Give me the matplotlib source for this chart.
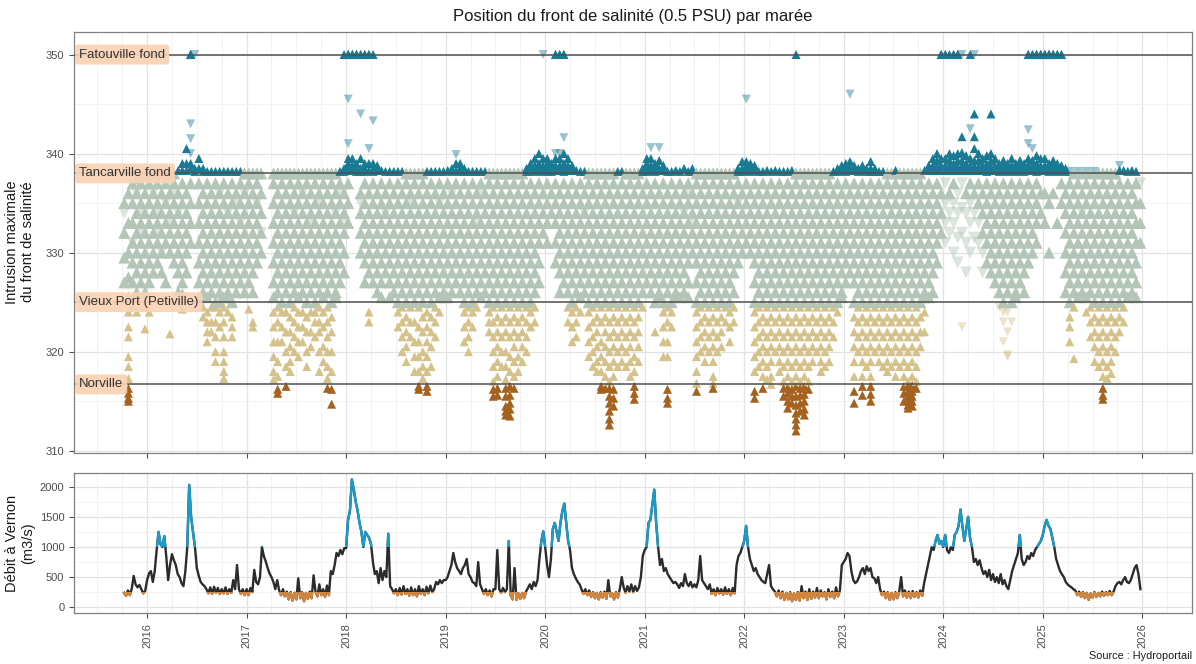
import numpy as np
import matplotlib
matplotlib.use("Agg")
import matplotlib.pyplot as plt
import matplotlib.transforms as mtransforms
from matplotlib.patches import Rectangle

plt.rcParams['font.family'] = ['Liberation Sans', 'DejaVu Sans']

# Maximum intrusion of the 0.5 PSU front (km), read per half-month bin
# (Jan a, Jan b, Feb a, ...). A trailing "v" marks the downward triangles.
cloud_2015 = [  # Oct a .. Dec b
    "335 332 329.5 327 334v",
    "336 333 330 327.5 325.5 324 322.5 321.5 319.5 318.5 317.3 316.3 315.8 315.3 315",
    "337 335 333 331 329 327 331v 324.5",
    "337.5 336 334 332 330 328 326 324 336v",
    "338 337 335 333 331 329 327 334v 332v",
    "338 336 334 332 330 328 326 324.5 322.3",
]
cloud_2016 = [
    "338 337 335 333 331 329 327 324",
    "338 336 334 332 330 328 336v",
    "338 337 335 333 331 329 334v 332v",
    "338 336 334 332 330 328 330v",
    "338 337 335 333 331 327 335v",
    "338 336 334 332 330 321.8 333v",
    "338 337 335 333 331 329 336v",
    "338.3 336 334 332 330 328 326 334v",
    "339 338.3 337 335 333 331 329 327 325.8 324.3",
    "340.5 339 338.3 336 334 332 330 328",
    "350 350 350 343v 341.5v 340v 339 338.5 337 335 333 331",
    "350v 338.5 338.2",
    "339.5 338.5 337 335 333 331 329 327 325.5",
    "338.5 338.2 336 334 332 330 328 326 324.5 323.5",
    "338.2 337 335 333 331 329 327 325.5 324 323 322 321",
    "338.2 336 334 332 330 328 326 324.5 323 322",
    "338.2 337 335 333 331 329 327 325 324.5 323 321.5 320 319",
    "338.2 336 334 332 330 328 326 325 324 322.5 336v",
    "338.2 337 335 333 331 329 327 325.5 324.5 323 321.5 320 319 318 317.3",
    "338.2 336 334 332 330 328 326 325.5 324 334v",
    "338.2 337 335 333 331 329 327 325 323.5 322.5 321.5",
    "338.2 336 334 332 330 328 326 335v",
    "338.2 337 335 333 331 329 327 333v",
    "338 336 334 332 330 328 326 336v",
]
cloud_2017 = [
    "338 337 335 333 331 329 327 324.3",
    "338 336 334 332 330 328 326 323 322.5",
    "338 337 335 333 331 329 335v",
    "338 336 334 332 330 332v",
    "",
    "",
    "338 337 335 333 331 329 327 325.5 324 322.5 321 319.5 318 317.2",
    "338 336 334 332 330 328 326 324.5 323 321 319 317.5 316.2 315.8",
    "338 337 335 333 331 329 327 325 324 322.5 321",
    "338 336 334 332 330 328 326 324 322 320 318.5 316.5",
    "338 337 335 333 331 329 327 325 323.5 322 320.5 319 318",
    "338 336 334 332 330 328 326 324.5 323 321.5 320 334v",
    "338 337 335 333 331 329 327 325.5 324 322.5 321 319.5",
    "338 336 334 332 330 328 326 324 322.5 321 336v",
    "338 337 335 333 331 329 327 325 323.5 322 320 318.5",
    "338 336 334 332 330 328 326 324 322 320.5 333v",
    "338 337 335 333 331 329 327 325 324 323 321.5",
    "338 336 334 332 330 328 326 324.5 323 322 320 318 335v",
    "338 337 335 333 331 329 327 325.5 324 322.5 320.5 319",
    "338 336 334 332 330 328 326 324.5 323 321.5 320 318.5 317.3 316.3",
    "338 337 335 333 331 329 327 325 323.5 322 320 318 316.2 314.7",
    "338 336 334 332 330 328 326 325.5 334v",
    "338.2 337 335 333 331 329 327 336v",
    "338.5 338.2 336 334 332 330 328 333v 350",
]
cloud_2018 = [
    "350 350 350 345.5v 341v 339.5 339 338.5 338.3 337 335 333",
    "350 350 350 339.5 338.8 338.3",
    "350 350 350 339 338.5 338.2",
    "350 350 344v 339.5 338.5 338.2 336 334 332 330 335v",
    "350 350 339 338.5 338.2 337 335 333 331 329 327",
    "350 350 340.5v 339 338.3 336 334 332 330 328 324 323",
    "350 343.3v 339 338.5 338.2 337 335 333 331 329 327",
    "338.8 338.3 336 334 332 330 328 326",
    "338.3 337 335 333 331 329 327 325.5",
    "338.2 336 334 332 330 328 334v",
    "338.2 337 335 333 331 329 327 325.5",
    "338.2 336 334 332 330 328 326",
    "338.2 337 335 333 331 329 327 325 324 322.5",
    "338.2 336 334 332 330 328 326 324.5 323 321.5 320",
    "338 337 335 333 331 329 327 325 323.5 322 320.5 319",
    "338 336 334 332 330 328 326 324.5 323 321.5 335v",
    "338 337 335 333 331 329 327 325 323 321 319.5 318",
    "338 336 334 332 330 328 326 324.5 322.5 321 319.5 318 316.5 316.2",
    "338 337 335 333 331 329 327 325 323.5 322 320 318.5 317.3",
    "338.2 336 334 332 330 328 326 324 322.5 321 319.5 318 316.5 316",
    "338.2 337 335 333 331 329 327 325 323.5 322 320.5 318.5",
    "338.2 336 334 332 330 328 326 324.5 323 321.5",
    "338.2 337 335 333 331 329 327 325.5 324 335v",
    "338.2 336 334 332 330 328 326 325.5",
]
cloud_2019 = [
    "338.3 337 335 333 331 329 327 325.5",
    "338.5 338.2 336 334 332 330 328 326 336v",
    "339.9v 339 338.3 337 335 333 331 329 327",
    "339 338.5 338.2 336 334 332 330 328 326",
    "338.5 338.2 337 335 333 331 329 327 325 324 322.5 321",
    "338.2 336 334 332 330 328 326 324.5 323 321.5 320",
    "338.2 337 335 333 331 329 327 325 324 322.5",
    "338.2 336 334 332 330 328 326 324.5 333v",
    "338.2 337 335 333 331 329 327 325.5 336v",
    "338.2 336 334 332 330 328 326",
    "338 337 335 333 331 329 327 325 324 323 322",
    "338 336 334 332 330 328 326 324.5 323 321.5 320 318.5 317 316.2 315.5",
    "338 337 335 333 331 329 327 325 323.5 322 320.5 319 317.5 316.3 315.6",
    "338 336 334 332 330 328 326 324.5 323 321.5 320 318.5",
    "338 337 335 333 331 329 327 325 323.5 322 320 318.5 317.2 316.3 315.5 314.5 314 313.6",
    "338 336 334 332 330 328 326 324.5 323 321.5 319.5 318 316.5 315.6 314.8 314.2 313.5",
    "338 337 335 333 331 329 327 325 323.5 322 320.5 319 317.5 316.3",
    "338 336 334 332 330 328 326 324.5 323 321.5 319.5 318",
    "338 337 335 333 331 329 327 325 323.5 322 320.5 319",
    "338.5 338.2 336 334 332 330 328 326 324.5 323 321.5 320",
    "339 338.5 338.2 337 335 333 331 329 327 325 324 322.5",
    "339.5 338.8 338.3 336 334 332 330 328 326 324.5 323",
    "340 339 338.5 338.2 337 335 333 331 329 327",
    "350v 339.5 338.8 338.3 336 334 332",
]
cloud_2020 = [
    "339.5 339 338.5 338.2 337 335 333 331",
    "339 338.5 338.2 336 334",
    "350 350 340v 339.5 338.8 338.3 337 335 333 331 329",
    "350 350 340v 339.5 338.8 338.3 336 334 332 330 328 326",
    "350 350 341.6v 340 339 338.5 338.2 337 335 333 331 329 327",
    "339.5 338.8 338.3 336 334 332 330 328 326 324.5 323",
    "338.8 338.3 337 335 333 331 329 327 325 324 322.5 321",
    "338.3 336 334 332 330 328 326 324.5 323 321.5",
    "338.2 337 335 333 331 329 327 325.5 324",
    "338.2 336 334 332 330 328 326 334v",
    "338 337 335 333 331 329 327 325 324 322.5 321 319.5",
    "338 336 334 332 330 328 326 324.5 323 321.5 320 318.5",
    "338 337 335 333 331 329 327 325 323.5 322 320.5 319 318",
    "338 336 334 332 330 328 326 324.5 323 321 319.5 318 316.5 316.2",
    "338 337 335 333 331 329 327 325 323.5 322 320.5 319 317.5 316.3",
    "338 336 334 332 330 328 326 324.5 323 321.5 320 318.5 317 316.3 315.5 314.8 314 313.2 312.6",
    "338 337 335 333 331 329 327 325 323.5 322 320.5 319 317.5 316.2 315.3 314.5",
    "338.2 336 334 332 330 328 326 324.5 323 321.5 320 318.5",
    "338.2 337 335 333 331 329 327 325 323.5 322 320.5 319",
    "338 336 334 332 330 328 326 324.5 323 321.5 320 318.5",
    "338 337 335 333 331 329 327 325 323.5 322 320.5 319 317.5",
    "338 336 334 332 330 328 326 324.5 323 321.5 319.5 318 316.5 315.8 315.2",
    "338 337 335 333 331 329 327 325 323.5 322 320.5 319",
    "338.5 338.2 336 334 332 330 328 326 324.5",
]
cloud_2021 = [
    "339.5 339 338.5 338.2 337 335 333 331 329 327",
    "340.6v 339.5 338.8 338.3 336 334 332 330 328 326",
    "339 338.5 338.2 337 335 333 331 329 327 325 322",
    "340.6v 339.3 338.5 338.3 336 334 332 330 328 326 325.5",
    "338.8 338.3 337 335 333 331 329 327 325 324 322.5 321 319.5",
    "338.2 336 334 332 330 328 326 324.5 323 321 319.5 316.2 315.3 314.8",
    "338.2 337 335 333 331 329 327 325 324 322.5",
    "338.3 336 334 332 330 328 326 325.5",
    "338.2 337 335 333 331 329 327 325.5",
    "338.5 336 334 332 330 328 326 334v",
    "338.2 337 335 333 331 329 327 325.5 336v",
    "338.5 338.2 336 334 332 330 333v",
    "338 337 335 333 331 329 327 325 324 322.5 321 319.5 318 316.8 316",
    "338 336 334 332 330 328 326 324.5 323 321.5 320",
    "338 337 335 333 331 329 327 325 323.5 322 320.5 319",
    "338 336 334 332 330 328 326 324.5 323 321.5 320",
    "338 337 335 333 331 329 327 325 323.5 322 320.5 319 317.5 316.8 316.3",
    "338 336 334 332 330 328 326 324.5 323 321.5 320",
    "338 337 335 333 331 329 327 325 323.5 322 320.5",
    "338 336 334 332 330 328 326 324.5 323",
    "338 337 335 333 331 329 327 325 324 322.5 321",
    "338 336 334 332 330 328 326 324.5 323",
    "338.5 338.2 337 335 333 331 329 335v",
    "339.2 338.5 338.2 336 334 332 330",
]
cloud_2022 = [
    "345.5v 339.2 338.8 338.3 337 335 333 331",
    "339 338.5 338.2 336 334 332 330",
    "338.8 338.3 337 335 333 331 329 327 325 324 322.5 321 319.5 318 316 315.3",
    "338.2 336 334 332 330 328 326 324.5 323 321.5 320 318.5",
    "338.2 337 335 333 331 329 327 325 323.5 322 320.5 319 317.5 316.3",
    "338.3 336 334 332 330 328 326 324.5 323 321.5 320 318.5 317.2",
    "338.2 337 335 333 331 329 327 325 323.5 322 320.5 319 317.5 316.7",
    "338.3 336 334 332 330 328 326 324.5 323 321.5 320",
    "338.2 337 335 333 331 329 327 325 323.5 322 320.5 319 318",
    "338.2 336 334 332 330 328 326 324.5 323 321.5 320 318.5 317 316.3 315.5",
    "338.2 337 335 333 331 329 327 325 323.5 322 320.5 319 317.5 316.4 315.8 315 314.3",
    "338.3 336 334 332 330 328 326 324.5 323 321.5 320 318.5 317 316.2 315.5 314.8",
    "350 338 337 335 333 331 329 327 325 323.5 322 320.5 319 317.5 316.5 315.5 314.6 313.8 313.2 312.6 312",
    "338 336 334 332 330 328 326 324.5 323 321.5 320 318.5 317 316.3 315.6 314.8 314",
    "338 337 335 333 331 329 327 325 323.5 322 320.5 319 317.5 316.5 315.7 315 314.2 313.6",
    "338 336 334 332 330 328 326 324.5 323 321.5 320 318.5 317 316.2",
    "338 337 335 333 331 329 327 325 323.5 322 320.5 319",
    "338 336 334 332 330 328 326 324.5 323 321.5 320",
    "338 337 335 333 331 329 327 325 323.5 322 320.5 319 318",
    "338 336 334 332 330 328 326 324.5 323 321.5 320 318.5",
    "338 337 335 333 331 329 327 325 323.5 322 320.5 319",
    "338.2 336 334 332 330 328 326 324.5 323 321.5",
    "338.5 338.2 337 335 333 331 329 327 325 324",
    "338.8 338.3 336 334 332 330 328 326 325.5",
]
cloud_2023 = [
    "339 338.5 338.2 337 335 333 331 329 327",
    "346v 339.2 338.5 338.3 336 334 332 330 328",
    "338.8 338.3 337 335 333 331 329 327 325 323.5 322 320.5 319 317.5 316 314.8",
    "338.5 338.2 336 334 332 330 328 326 324.5 323 321.5 320",
    "338.8 338.3 337 335 333 331 329 327 325 323.5 322 320.5 319 317.5 316.5 315.6",
    "338.5 338.2 336 334 332 330 328 326 324.5 323 321.5 320 318.5",
    "339.2 338.5 338.2 337 335 333 331 329 327 325 323.5 322 320.5 319 317.5 316.5 315.7 315",
    "338.5 338.2 336 334 332 330 328 326 324.5 323 321.5 320",
    "338.2 337 335 333 331 329 327 325 323.5 322 320.5 319",
    "338.2 336 334 332 330 328 326 324.5 323 321.5 320 318.5",
    "338 337 335 333 331 329 327 325 323.5 322 320.5 319 318",
    "338 336 334 332 330 328 326 324.5 323 321.5 320 318.5",
    "338.3 337 335 333 331 329 327 325 323.5 322 320.5 319 317.5",
    "338 336 334 332 330 328 326 324.5 323 321.5 320 318.5",
    "338 337 335 333 331 329 327 325 323.5 322 320.5 319 317.5 316.5 315.8 315",
    "338 336 334 332 330 328 326 324.5 323 321.5 320 318.5 317 316.5 316 315.5 315 314.6 314.3",
    "338 337 335 333 331 329 327 325 323.5 322 320.5 319 317.5 316.6 316 315.5 315 314.5",
    "338 336 334 332 330 328 326 324.5 323 321.5 320 318.5 317 316.3",
    "338 337 335 333 331 329 327 325 323.5 322 320.5",
    "338.3 336 334 332 330 328 326 325.5 324 322",
    "338.8 338.3 337 335 333 331 329 327 325.5",
    "339.5 338.8 338.3 336 334 332 330 328 326",
    "340 339.3 338.7 338.3 337 335 333 331 329",
    "350 350 339.5 338.8 338.3 336 334 332",
]
cloud_2024 = [
    "350 350 339.5 338.8 338.3 337v 335v 333v 331v",
    "350 340 339.3 338.7 338.3 336 334v 332v",
    "350 350 339.8 339 338.5 338.3 337 335v 333v 330v",
    "350 350 340 339.3 338.7 338.3 336v 334v 331.5v 329v",
    "350v 341.7 340.1 339.3 338.7 338.3 337v 334.5v 332v 322.5v",
    "339.8 339 338.5 338.3 336 334v 331v 328v",
    "350 342.5v 339.5 338.8 338.3 337 335v 333v 330v",
    "350v 344 341.7 340.5 339.3 338.7 338.3 336 334v 331.5v",
    "340 339.3 338.7 338.3 337 335 333v 331v",
    "339.5 338.8 338.3 336 334 332 330v 328v",
    "339.8 339 338.5 338.2 337 335 333 331 329",
    "344 340 339.3 338.7 338.3 336 334 332 330 328",
    "339.5 338.8 338.3 337 335 333 331 329 327",
    "339 338.5 338.2 336 334 332 330 328 326 324.5v",
    "339.3 338.7 338.3 337 335 333 331 329 327 325 324v 323v 321v",
    "339 338.5 338.2 336 334 332 330 328 326 324v 322v 319.7v 319.5v",
    "339.5 338.8 338.3 337 335 333 331 329 327 325 323v",
    "339 338.5 338.2 336 334 332 330 328 326 325.5",
    "339.3 338.7 338.3 337 335 333 331 329 327",
    "339 338.5 338.2 336 334 332 330 328 326",
    "350 350 342.4v 341v 339.5 338.8 338.3 337 335 333 331 329",
    "350 350 340.5v 339.3 338.7 338.3 336 334 332 330",
    "350 350 350 339.8 339 338.5 338.2 337 335 333 331",
    "350 350 350 339.5 338.8 338.3 336 334",
]
cloud_2025 = [
    "350 350 350 339.5 338.8 338.3 336 333",
    "350 350 350 339 338.5 338.2 335 330",
    "350 350 350 339.3 338.7 338.3 336",
    "350 350 339 338.5 338.2 333",
    "350 350 338.8 338.3 337 335",
    "338.5 338.2 336 334 332 330 328 326",
    "338.2v 337 335 333 331 329 327 325 323.5 322.5 321",
    "338 336 334 332 330 328 326 324.5 319.3",
    "338.2v 337 335 333 331 329 327 325.5",
    "338 336 334 332 330 328 326 334v",
    "338.2v 337 335 333 331 329 327 325.5 324",
    "338 336 334 332 330 328 326 324.5 323 321.5",
    "338.2v 337 335 333 331 329 327 325 323.5 322 320.5 319",
    "338 336 334 332 330 328 326 324.5 323 321.5 320 318.5",
    "338 337 335 333 331 329 327 325 323.5 322 320.5 319 317.5 316.3 315.6 315.2",
    "338 336 334 332 330 328 326 324.5 323 321.5 320 318.5 317.3",
    "338 337 335 333 331 329 327 325 323.5 322 320.5 319 317.8",
    "338 336 334 332 330 328 326 324.5 323 321.5 320",
    "338.8v 338.3 337 335 333 331 329 327 325 323.5 322",
    "338.3 336 334 332 330 328 326 324.5 323",
    "338.2 337 335 333 331 329 327 325.5",
    "338.3 336 334 332 330 328 326",
    "338.2 337 335 333 331 329 327 325.5",
    "337v 335 333 331",
]
cloud_years = [2015, 2016, 2017, 2018, 2019, 2020, 2021, 2022, 2023, 2024, 2025]
cloud_bins = [cloud_2015, cloud_2016, cloud_2017, cloud_2018, cloud_2019, cloud_2020,
              cloud_2021, cloud_2022, cloud_2023, cloud_2024, cloud_2025]
cloud_first_bin = [18, 0, 0, 0, 0, 0, 0, 0, 0, 0, 0]

# Discharge at Vernon (m3/s), weekly readings (2015 starts at week 40)
q_2015 = [240, 190, 280, 200, 310, 520, 380, 330, 370, 300, 230, 270]
q_2016 = [450, 560, 600, 420, 600, 950, 1250, 1050, 1000, 1180, 850, 450,
          700, 880, 780, 700, 550, 500, 400, 350, 600, 1000, 2030, 1500,
          1250, 1000, 650, 520, 420, 380, 350, 300, 230, 330, 220, 340,
          240, 320, 220, 300, 230, 330, 220, 300, 240, 450, 300, 700,
          300, 220, 300, 200]
q_2017 = [300, 200, 320, 250, 620, 420, 380, 500, 1000, 850, 760, 650,
          560, 500, 420, 300, 450, 280, 200, 300, 180, 260, 130, 250,
          110, 240, 130, 480, 150, 250, 100, 240, 140, 260, 150, 530,
          260, 180, 380, 200, 300, 170, 360, 200, 600, 550, 700, 900,
          850, 950, 880, 980]
q_2018 = [980, 1450, 1600, 2120, 1950, 1750, 1600, 1400, 1250, 1000, 1250, 1200,
          1150, 1050, 750, 550, 600, 400, 650, 450, 600, 500, 1220, 350,
          300, 230, 300, 200, 320, 210, 350, 220, 300, 190, 330, 200,
          300, 180, 350, 220, 300, 200, 340, 230, 360, 250, 300, 420,
          380, 450, 400, 450]
q_2019 = [450, 500, 600, 700, 900, 750, 650, 600, 550, 650, 700, 800,
          550, 500, 420, 400, 350, 750, 380, 300, 220, 300, 200, 280,
          180, 300, 300, 950, 300, 240, 320, 250, 300, 1100, 200, 130,
          650, 120, 230, 140, 240, 150, 260, 320, 380, 300, 420, 350,
          450, 800, 1100, 1260]
q_2020 = [1000, 700, 500, 800, 1300, 1400, 1250, 1100, 1400, 1600, 1720, 1400,
          1100, 950, 650, 550, 480, 420, 380, 300, 220, 300, 200, 280,
          170, 250, 150, 240, 130, 250, 160, 260, 140, 450, 180, 230,
          130, 250, 160, 300, 500, 330, 240, 350, 260, 380, 250, 350,
          270, 330, 500, 850]
q_2021 = [950, 1000, 1400, 1450, 1700, 1950, 1400, 1000, 700, 800, 600, 650,
          550, 500, 450, 400, 420, 380, 320, 400, 350, 550, 400, 350,
          420, 330, 380, 330, 450, 850, 450, 400, 350, 300, 380, 220,
          300, 200, 320, 230, 300, 210, 330, 220, 300, 200, 320, 230,
          700, 850, 900, 1000]
q_2022 = [1100, 1350, 1000, 800, 700, 600, 650, 550, 500, 450, 420, 400,
          550, 700, 350, 300, 260, 180, 280, 150, 260, 120, 240, 130,
          250, 100, 230, 120, 250, 110, 350, 150, 260, 120, 300, 140,
          260, 160, 320, 150, 280, 180, 250, 130, 300, 170, 260, 150,
          330, 180, 280, 700]
q_2023 = [750, 800, 900, 850, 600, 450, 400, 430, 500, 600, 650, 550,
          680, 600, 650, 500, 480, 400, 500, 300, 200, 260, 150, 250,
          120, 240, 130, 250, 150, 260, 500, 180, 280, 160, 260, 150,
          270, 170, 250, 160, 280, 190, 400, 550, 700, 850, 1000, 950,
          1100, 1200, 1050, 1100]
q_2024 = [1000, 1200, 950, 900, 1000, 950, 1200, 1250, 1350, 1620, 1350, 1100,
          1300, 1500, 1150, 1000, 750, 800, 700, 780, 650, 550, 600, 500,
          620, 450, 550, 420, 500, 400, 550, 380, 450, 350, 300, 450,
          600, 700, 800, 900, 1200, 800, 700, 750, 850, 800, 900, 850,
          950, 1000, 1050, 1100]
q_2025 = [1200, 1350, 1450, 1350, 1300, 1150, 1000, 800, 700, 600, 550, 500,
          420, 380, 350, 330, 300, 280, 200, 260, 170, 250, 150, 240,
          120, 230, 160, 250, 170, 240, 180, 260, 190, 250, 200, 270,
          200, 260, 350, 400, 420, 380, 450, 500, 420, 400, 450, 550,
          650, 700, 550, 300]
q_years = cloud_years
q_series = [q_2015, q_2016, q_2017, q_2018, q_2019, q_2020, q_2021, q_2022, q_2023, q_2024, q_2025]
q_first_week = [40, 0, 0, 0, 0, 0, 0, 0, 0, 0, 0]

stations = ["Fatouville fond", "Tancarville fond", "Vieux Port (Petiville)", "Norville"]
station_km = [350, 338, 325, 316.7]

years = list(range(2016, 2027))

# colours
teal, green, tan, brown = "#1b7a93", "#b2c5b6", "#d5c28b", "#a5621e"


def colour(v):
    if v > 338:
        return teal
    if v >= 325:
        return green
    if v >= 316.7:
        return tan
    return brown


# unpack the tide points
xs, ys, down = [], [], []
for year, bins, first in zip(cloud_years, cloud_bins, cloud_first_bin):
    for i, s in enumerate(bins):
        for tok in s.split():
            xs.append(year + (first + i + 0.5) / 24)
            ys.append(float(tok.rstrip("v")))
            down.append(tok.endswith("v"))
xs, ys, down = np.array(xs), np.array(ys), np.array(down)
cols = np.array([colour(v) for v in ys])
big = cols == green   # the dense cloud gets slightly bigger marks

qx, qy = [], []
for year, vals, first in zip(q_years, q_series, q_first_week):
    qx += [year + (first + i) / 52 for i in range(len(vals))]
    qy += vals

fig = plt.figure(figsize=(11.96, 6.64), dpi=100)
ax1 = fig.add_axes([0.0619, 0.3182, 0.9348, 0.6340])
ax2 = fig.add_axes([0.0619, 0.0764, 0.9348, 0.2117], sharex=ax1)

for ax in (ax1, ax2):
    ax.set_xlim(2015.266, 2026.5)
    ax.set_xticks(years)
    ax.set_xticks(np.arange(2015.5, 2026.6, 0.25), minor=True)
    ax.grid(which="major", color="#e3e3e3", lw=0.9)
    ax.grid(which="minor", color="#f0f0f0", lw=0.6)
    ax.set_axisbelow(True)
    for sp in ax.spines.values():
        sp.set_color("#808080")
        sp.set_linewidth(0.9)
    ax.tick_params(which="major", length=3.5, width=0.8, color="#4d4d4d",
                   labelsize=8, labelcolor="#4d4d4d")
    ax.tick_params(which="minor", length=0)

# top panel
ax1.set_ylim(309.8, 352.3)
ax1.set_yticks([310, 320, 330, 340, 350])
ax1.set_yticks([315, 325, 335, 345], minor=True)
ax1.tick_params(labelbottom=False)

sizes = np.where(big, 75, 42)
m = down
ax1.scatter(xs[m], ys[m], marker="v", s=sizes[m], c=list(cols[m]), alpha=0.45, lw=0, zorder=2)
m = ~down
ax1.scatter(xs[m], ys[m], marker="^", s=sizes[m], c=list(cols[m]), lw=0, zorder=3)

trans = mtransforms.blended_transform_factory(ax1.transAxes, ax1.transData)
for name, km in zip(stations, station_km):
    ax1.axhline(km, color="#505050", lw=1.1, zorder=4)
    ax1.text(0.0045, km, name, transform=trans, ha="left", va="center", fontsize=9.5,
             color="#333333", zorder=5,
             bbox=dict(boxstyle="round,pad=0.3,rounding_size=0.2", fc="#f9d3b4", ec="none", alpha=0.92))

# bottom panel
ax2.set_ylim(-100, 2232)
ax2.set_yticks([0, 500, 1000, 1500, 2000])
ax2.set_yticks([250, 750, 1250, 1750], minor=True)
ax2.set_xticklabels([str(y) for y in years], rotation=90)

ax2.plot(qx, qy, color="#2b2b2b", lw=1.7, zorder=3)
low = ax2.plot(qx, qy, color="#d4863c", lw=1.7, zorder=4)[0]
low.set_clip_path(Rectangle((2014, -1000), 14, 1250, transform=ax2.transData))
high = ax2.plot(qx, qy, color="#1a9ccb", lw=1.7, zorder=4)[0]
high.set_clip_path(Rectangle((2014, 1000), 14, 3000, transform=ax2.transData))

# texts
fig.text(633 / 1196, 1 - 16 / 664, "Position du front de salinité (0.5 PSU) par marée",
         ha="center", va="center", fontsize=12, color="#1a1a1a")
fig.text(20 / 1196, 1 - 242 / 664, "Intrusion maximale\ndu front de salinité", rotation=90,
         ha="center", va="center", fontsize=10.5, multialignment="center", color="#1a1a1a")
fig.text(20 / 1196, 1 - 543 / 664, "Débit à Vernon\n(m3/s)", rotation=90,
         ha="center", va="center", fontsize=10.5, multialignment="center", color="#1a1a1a")
fig.text(1192 / 1196, 1 - 656 / 664, "Source : Hydroportail", ha="right", va="center",
         fontsize=7.8, color="#1a1a1a")

fig.savefig("out.png", dpi=100)
